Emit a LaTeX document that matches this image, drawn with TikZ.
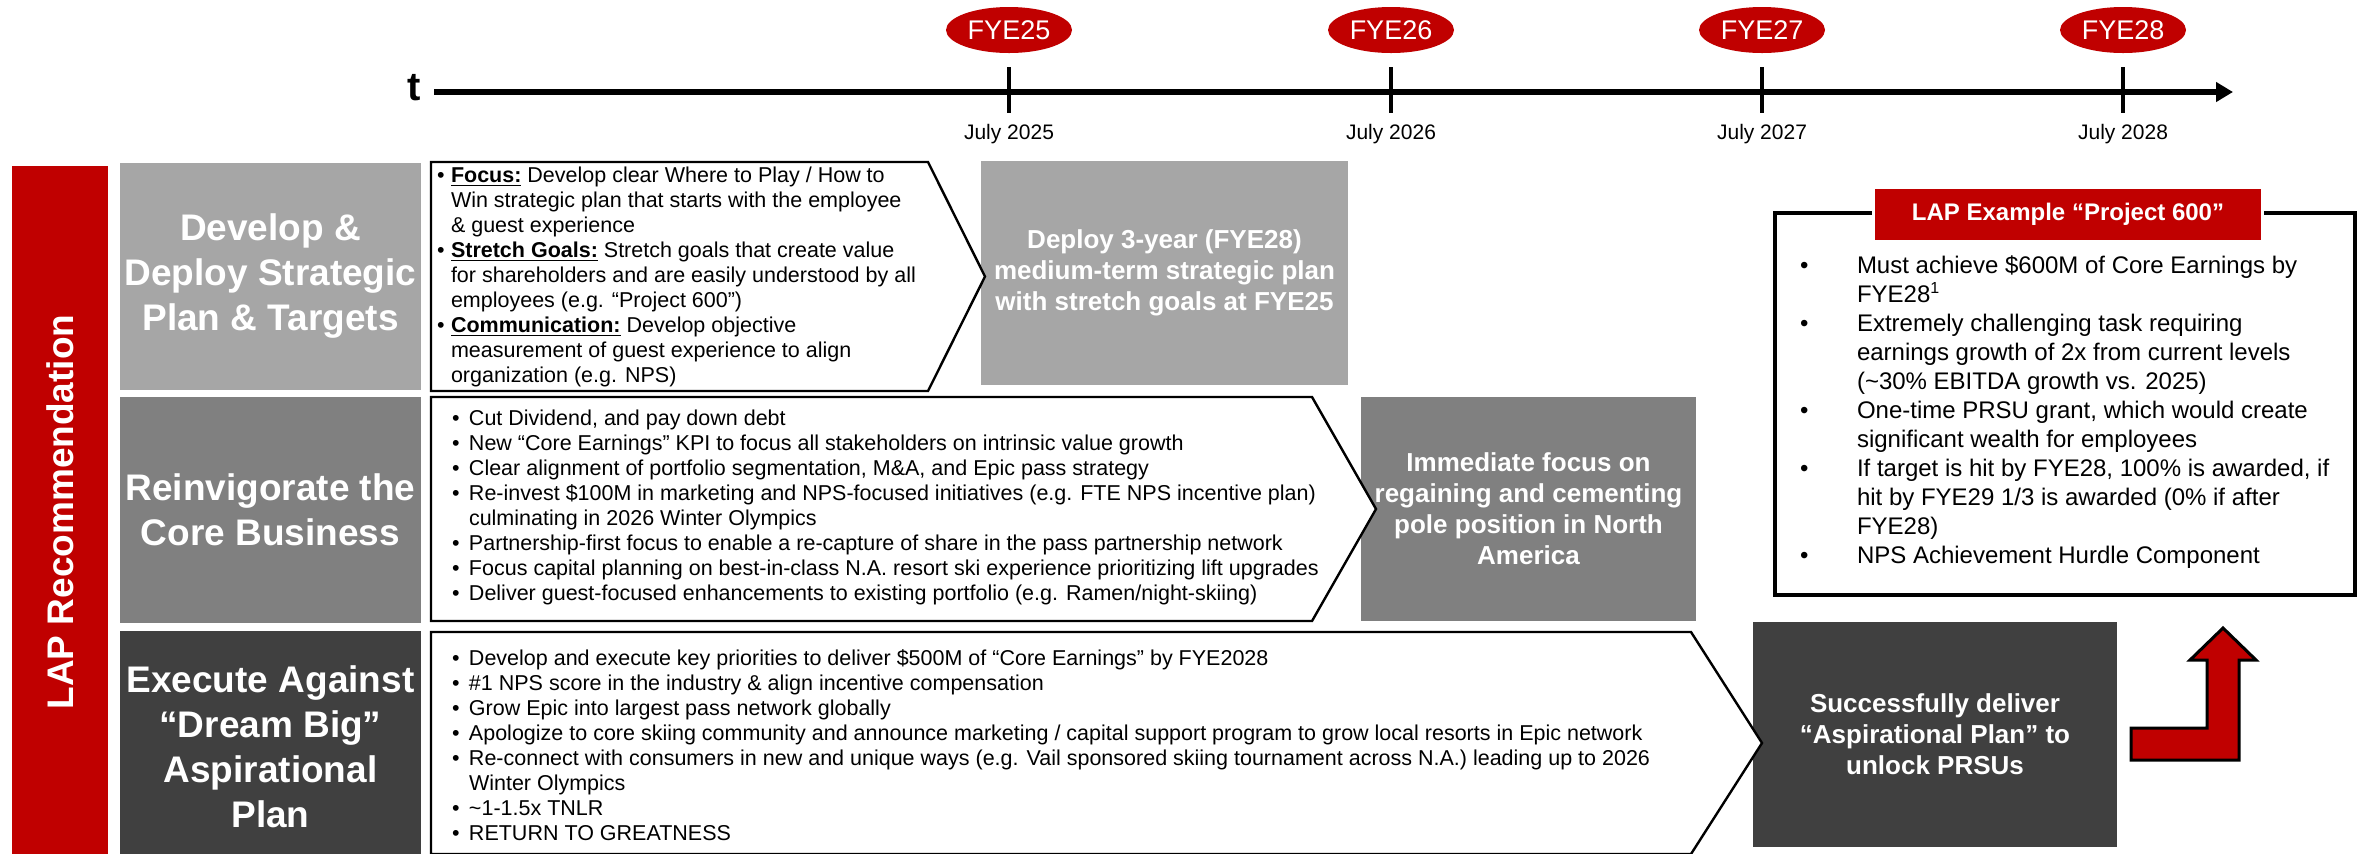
\documentclass[tikz,border=0pt]{standalone}
\usepackage{fontspec}
\setmainfont{Liberation Sans}
\usetikzlibrary{arrows.meta,shapes.geometric}
\definecolor{lapred}{HTML}{C00000}
\definecolor{gA}{HTML}{A6A6A6}
\definecolor{gB}{HTML}{808080}
\definecolor{gC}{HTML}{404040}
\newcommand{\mybul}[1]{\makebox[#1][l]{•}}
\newcommand{\myind}[1]{\makebox[#1]{}}
\begin{document}
\begin{tikzpicture}[x=0.5pt,y=-0.5pt,
  every node/.style={inner sep=0pt, outer sep=0pt},
  fye/.style={ellipse, fill=lapred, minimum width=63pt, minimum height=23pt, text=white, font=\fontsize{13.5pt}{15pt}\selectfont},
  july/.style={font=\fontsize{10.5pt}{12pt}\selectfont},
  tickline/.style={line width=2pt},
  leftbox/.style={minimum width=150.5pt, text=white, align=center, font=\fontsize{18.5pt}{22.5pt}\selectfont\bfseries},
  chev/.style={draw=black, fill=white, line width=1.2pt, line join=miter},
  chevtext/.style={anchor=west, align=left, font=\fontsize{10.75pt}{12.5pt}\selectfont},
  resbox/.style={text=white, align=center, font=\fontsize{13pt}{15.5pt}\selectfont\bfseries},
  laptext/.style={anchor=west, align=left, font=\fontsize{12pt}{14.5pt}\selectfont}
]
\clip (0,0) rectangle (2364,853);
\fill[white] (0,0) rectangle (2364,853);

% ---------- timeline ----------
\node[font=\fontsize{20pt}{22pt}\selectfont\bfseries] (t) at (414,88) {t};
\coordinate (axS) at (434,92);
\coordinate (axE) at (2233,92);
\draw[line width=3pt, -{Triangle[length=8.5pt,width=9.5pt]}] (axS) -- (axE);
\foreach \x/\n/\lab in {1009/25/2025, 1391/26/2026, 1762/27/2027, 2123/28/2028} {
  \coordinate (tkT\n) at (\x,67);
  \coordinate (tkB\n) at (\x,113);
  \draw[tickline] (tkT\n) -- (tkB\n);
  \node[fye] (fye\n) at (\x,30) {FYE\n};
  \node[july] (jul\n) at (\x,134) {July \lab};
}

% ---------- left column ----------
\node[fill=lapred, minimum width=48pt, minimum height=348pt] (redbar) at (60,514) {};
\node[rotate=90, text=white, font=\fontsize{18.5pt}{22pt}\selectfont\bfseries] (laprec) at (60,512) {LAP Recommendation};

\node[leftbox, fill=gA, minimum height=113.5pt] (dev) at (270.5,276.5) {Develop \&\\Deploy Strategic\\Plan \& Targets};
\node[leftbox, fill=gB, minimum height=113pt] (rein) at (270.5,510) {Reinvigorate the\\Core Business};
\node[leftbox, fill=gC, minimum height=115.5pt] (exec) at (270.5,746.5) {Execute Against\\“Dream Big”\\Aspirational\\Plan};

% ---------- result boxes ----------
\node[resbox, fill=gA, minimum width=183.5pt, minimum height=112pt] (deploy) at (1164.5,273) {Deploy 3-year (FYE28)\\medium-term strategic plan\\with stretch goals at FYE25};
\node[resbox, fill=gB, minimum width=167.5pt, minimum height=112pt] (immed) at (1528.5,509) {Immediate focus on\\regaining and cementing\\pole position in North\\America};
\node[resbox, fill=gC, minimum width=182pt, minimum height=112.5pt] (succ) at (1935,734.5) {Successfully deliver\\“Aspirational Plan” to\\unlock PRSUs};

% ---------- chevrons ----------
\draw[chev] (431,162) -- (928,162) -- (985,276.5) -- (928,391) -- (431,391) -- cycle;
\draw[chev] (431,397) -- (1312,397) -- (1376,509) -- (1312,621) -- (431,621) -- cycle;
\draw[chev] (431,632) -- (1691,632) -- (1762,743) -- (1691,854) -- (431,854) -- cycle;

\node[chevtext] (c1) at (437,276.5) {%
\mybul{7pt}\underline{\textbf{Focus:}} Develop clear Where to Play / How to\\
\myind{7pt}Win strategic plan that starts with the employee\\
\myind{7pt}\& guest experience\\
\mybul{7pt}\underline{\textbf{Stretch Goals:}} Stretch goals that create value\\
\myind{7pt}for shareholders and are easily understood by all\\
\myind{7pt}employees (e.g. “Project 600”)\\
\mybul{7pt}\underline{\textbf{Communication:}} Develop objective\\
\myind{7pt}measurement of guest experience to align\\
\myind{7pt}organization (e.g. NPS)};

\node[chevtext] (c2) at (452,507) {%
\mybul{8.5pt}Cut Dividend, and pay down debt\\
\mybul{8.5pt}New “Core Earnings” KPI to focus all stakeholders on intrinsic value growth\\
\mybul{8.5pt}Clear alignment of portfolio segmentation, M\&A, and Epic pass strategy\\
\mybul{8.5pt}Re-invest \$100M in marketing and NPS-focused initiatives (e.g. FTE NPS incentive plan)\\
\myind{8.5pt}culminating in 2026 Winter Olympics\\
\mybul{8.5pt}Partnership-first focus to enable a re-capture of share in the pass partnership network\\
\mybul{8.5pt}Focus capital planning on best-in-class N.A. resort ski experience prioritizing lift upgrades\\
\mybul{8.5pt}Deliver guest-focused enhancements to existing portfolio (e.g. Ramen/night-skiing)};

\node[chevtext] (c3) at (452,745) {%
\mybul{8.5pt}Develop and execute key priorities to deliver \$500M of “Core Earnings” by FYE2028\\
\mybul{8.5pt}\#1 NPS score in the industry \& align incentive compensation\\
\mybul{8.5pt}Grow Epic into largest pass network globally\\
\mybul{8.5pt}Apologize to core skiing community and announce marketing / capital support program to grow local resorts in Epic network\\
\mybul{8.5pt}Re-connect with consumers in new and unique ways (e.g. Vail sponsored skiing tournament across N.A.) leading up to 2026\\
\myind{8.5pt}Winter Olympics\\
\mybul{8.5pt}\textasciitilde1-1.5x TNLR\\
\mybul{8.5pt}RETURN TO GREATNESS};

% ---------- LAP example box ----------
\draw[line width=1.75pt] (1775,213) rectangle (2355,595);
\node[fill=lapred, draw=white, line width=1.5pt, minimum width=194.5pt, minimum height=27pt, text=white, font=\fontsize{12pt}{14pt}\selectfont\bfseries] (laptitle) at (2068,214) {LAP Example “Project 600”};
\node[laptext] (lapbody) at (1800,412) {%
\mybul{28.5pt}Must achieve \$600M of Core Earnings by\\
\myind{28.5pt}FYE28\textsuperscript{1}\\
\mybul{28.5pt}Extremely challenging task requiring\\
\myind{28.5pt}earnings growth of 2x from current levels\\
\myind{28.5pt}(\textasciitilde30\% EBITDA growth vs. 2025)\\
\mybul{28.5pt}One-time PRSU grant, which would create\\
\myind{28.5pt}significant wealth for employees\\
\mybul{28.5pt}If target is hit by FYE28, 100\% is awarded, if\\
\myind{28.5pt}hit by FYE29 1/3 is awarded (0\% if after\\
\myind{28.5pt}FYE28)\\
\mybul{28.5pt}NPS Achievement Hurdle Component};

% ---------- bent red arrow ----------
\draw[fill=lapred, draw=black, line width=1.5pt, line join=miter]
  (2131,728) -- (2207,728) -- (2207,660) -- (2190,660) -- (2223,628) -- (2256,660) -- (2239,660) -- (2239,760) -- (2131,760) -- cycle;
\end{tikzpicture}
\end{document}
